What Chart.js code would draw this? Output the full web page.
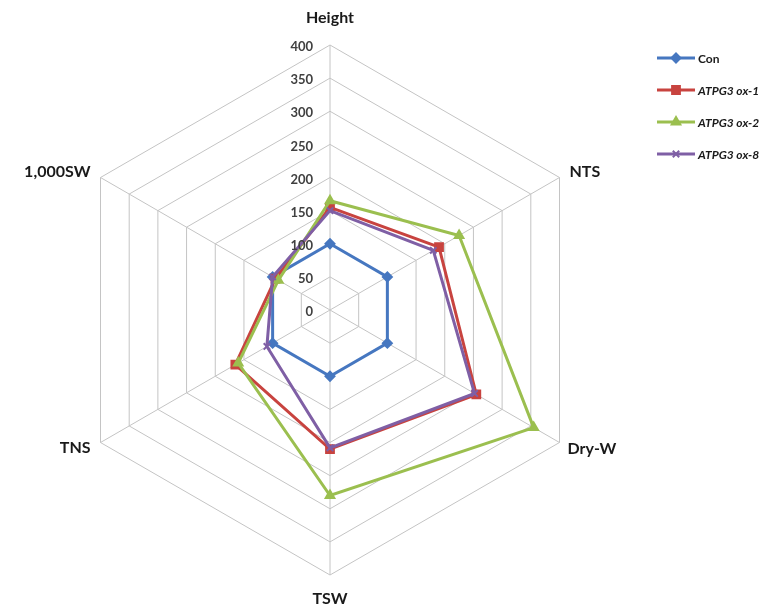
<!DOCTYPE html>
<html lang="en">
<head>
    <meta charset="UTF-8">
    <title>Radar chart</title>
    <style>
        body {
            margin: 0;
            background: #fff;
        }

        #wrap {
            width: 782px;
            height: 609px;
        }
    </style>
</head>
<body>
    <div id="wrap">
        <canvas id="radar" width="782" height="609"></canvas>
    </div>

    <script src="https://cdn.jsdelivr.net/npm/chart.js"></script>
    <script>
        const traits = ['Height', 'NTS', 'Dry-W', 'TSW', 'TNS', '1,000SW'];
        const seriesNames = ['Con', 'ATPG3 ox-1', 'ATPG3 ox-2', 'ATPG3 ox-8'];
        const conValues = [100, 100, 100, 100, 100, 100];
        const ox1Values = [155, 190, 255, 210, 165, 95];
        const ox2Values = [165, 225, 355, 280, 160, 90];
        const ox8Values = [150, 180, 252, 208, 110, 100];
        const tickMax = 400;
        const tickStep = 50;

        const colors = ['#4677c0', '#c8433f', '#9bbf4f', '#7f5fa5'];
        const markers = ['rectRot', 'rect', 'triangle', 'crossRot'];
        const markerSize = [4.5, 5.5, 5, 4.5];

        // where each axis name sits relative to its outer corner (Excel style)
        const labelPlace = [
            { dx: 0, dy: -27, align: 'center' },
            { dx: 10, dy: -6, align: 'left' },
            { dx: 8, dy: 6, align: 'left' },
            { dx: 0, dy: 24, align: 'center' },
            { dx: -10, dy: 5, align: 'right' },
            { dx: -10, dy: -6, align: 'right' }
        ];

        // tick labels, point labels and legend are drawn here
        const extras = {
            id: 'extras',
            afterDraw(chart) {
                const ctx = chart.ctx;
                const scale = chart.scales.r;
                ctx.save();

                ctx.fillStyle = '#404040';
                ctx.font = 'bold 13px Lato';
                ctx.textAlign = 'right';
                ctx.textBaseline = 'middle';
                scale.ticks.forEach(t => {
                    const p = scale.getPointPositionForValue(0, t.value);
                    ctx.fillText(String(t.value), p.x - 17, p.y + 2);
                });

                ctx.fillStyle = '#1a1a1a';
                ctx.font = 'bold 16px Lato';
                traits.forEach((name, i) => {
                    const p = scale.getPointPositionForValue(i, tickMax);
                    const lp = labelPlace[i];
                    ctx.textAlign = lp.align;
                    ctx.fillText(name, p.x + lp.dx, p.y + lp.dy);
                });

                // legend
                chart.data.datasets.forEach((ds, i) => {
                    const y = 58 + i * 32;
                    ctx.strokeStyle = ds.borderColor;
                    ctx.fillStyle = ds.borderColor;
                    ctx.lineWidth = 3;
                    ctx.beginPath();
                    ctx.moveTo(657, y);
                    ctx.lineTo(695, y);
                    ctx.stroke();
                    ctx.lineWidth = 2;
                    Chart.helpers.drawPoint(ctx, {
                        pointStyle: ds.pointStyle,
                        radius: ds.pointRadius,
                        borderWidth: 2
                    }, 676, y);
                    ctx.fillStyle = '#1a1a1a';
                    ctx.font = (i === 0 ? '' : 'italic ') + 'bold 12px Lato';
                    ctx.textAlign = 'left';
                    ctx.fillText(ds.label, 698, y + 1);
                });
                ctx.restore();
            }
        };

        const allValues = [conValues, ox1Values, ox2Values, ox8Values];
        const datasets = allValues.map((vals, i) => ({
            label: seriesNames[i],
            data: vals,
            borderColor: colors[i],
            backgroundColor: colors[i],
            pointBackgroundColor: colors[i],
            pointBorderColor: colors[i],
            pointStyle: markers[i],
            pointRadius: markerSize[i],
            pointBorderWidth: 2,
            borderWidth: 3,
            fill: false,
            order: 4 - i
        }));

        new Chart(document.getElementById('radar'), {
            type: 'radar',
            data: {
                labels: traits,
                datasets: datasets
            },
            options: {
                responsive: false,
                animation: false,
                layout: {
                    padding: { left: 65, right: 187, top: 45, bottom: 34 }
                },
                plugins: {
                    legend: { display: false },
                    tooltip: { enabled: false }
                },
                elements: {
                    line: { tension: 0 }
                },
                scales: {
                    r: {
                        min: 0,
                        max: tickMax,
                        beginAtZero: true,
                        ticks: { stepSize: tickStep, display: false },
                        pointLabels: { display: false },
                        grid: { color: '#c4c4c4', lineWidth: 1 },
                        angleLines: { color: '#c4c4c4', lineWidth: 1 }
                    }
                }
            },
            plugins: [extras]
        });
    </script>
</body>
</html>
